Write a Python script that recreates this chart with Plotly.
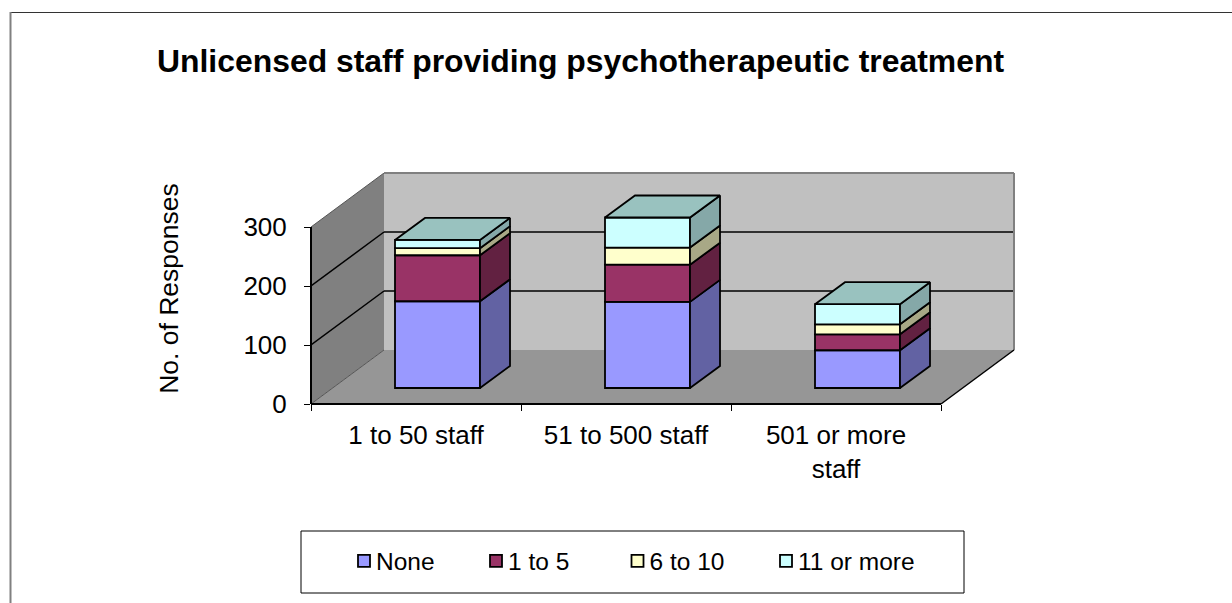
import plotly.graph_objects as go

categories = ["1 to 50 staff", "51 to 500 staff", "501 or more<br>staff"]
series_names = ["None", "1 to 5", "6 to 10", "11 or more"]
none_values = [147, 146, 64]
one_to_five = [78, 63, 27]
six_to_ten = [12, 29, 17]
eleven_plus = [14, 51, 34]
y_ticks = [0, 100, 200, 300]

front_colors = ["#9999FF", "#993366", "#FFFFCC", "#CCFFFF"]
side_colors = ["#6262A3", "#622141", "#A8A886", "#85A8A8"]
top_color = "#99C2BF"

W, H = 1232, 603
L, R, T, B = 311, 1014, 173, 404
PX_X = 210.0        # pixels per category
PX_Y = 0.59         # pixels per response
WALL_DX = 73 / PX_X
WALL_DY = 54 / PX_Y
X_MAX = (R - L) / PX_X
Y_MAX = (B - T) / PX_Y
BAR_W = 85 / PX_X
BAR_DX = 30 / PX_X
BAR_DY = 22 / PX_Y
BAR_X0 = 0.6024
BAR_Y0 = 16 / PX_Y

FONT = "Liberation Sans, Arial, sans-serif"


def px(x):
    return (x - L) / (R - L)


def py(y):
    return (B - y) / (B - T)


fig = go.Figure()
all_series = [none_values, one_to_five, six_to_ten, eleven_plus]
centers = [BAR_X0 + i for i in range(len(categories))]
bases = [BAR_Y0] * len(categories)
outline = dict(color="black", width=1.8)
legend_ids = ["legend", "legend2", "legend3", "legend4"]
side_traces = []
for s, (name, vals) in enumerate(zip(series_names, all_series)):
    fig.add_trace(go.Bar(x=centers, y=vals, base=bases, width=BAR_W, name=name,
                         legend=legend_ids[s],
                         marker=dict(color=front_colors[s], line=outline)))
    sx, sy = [], []
    for c, b, v in zip(centers, bases, vals):
        xr = c + BAR_W / 2
        sx += [xr, xr + BAR_DX, xr + BAR_DX, xr, xr, None]
        sy += [b, b + BAR_DY, b + v + BAR_DY, b + v, b, None]
    side_traces.append(go.Scatter(x=sx, y=sy, mode="lines", fill="toself", fillcolor=side_colors[s],
                                  line=outline, showlegend=False, hoverinfo="skip"))
    bases = [b + v for b, v in zip(bases, vals)]
for t in side_traces:
    fig.add_trace(t)

tx, ty = [], []
for c, b in zip(centers, bases):
    xl, xr = c - BAR_W / 2, c + BAR_W / 2
    tx += [xl, xr, xr + BAR_DX, xl + BAR_DX, xl, None]
    ty += [b, b, b + BAR_DY, b + BAR_DY, b, None]
fig.add_trace(go.Scatter(x=tx, y=ty, mode="lines", fill="toself", fillcolor=top_color,
                         line=outline, showlegend=False, hoverinfo="skip"))

shapes = [
    dict(type="path", layer="below", xref="x", yref="y", line=dict(width=0), fillcolor="#C0C0C0",
         path=f"M{WALL_DX},{WALL_DY} L{X_MAX},{WALL_DY} L{X_MAX},{Y_MAX} L{WALL_DX},{Y_MAX} Z"),
    dict(type="path", layer="below", xref="x", yref="y", line=dict(width=0), fillcolor="#808080",
         path=f"M0,0 L{WALL_DX},{WALL_DY} L{WALL_DX},{Y_MAX} L0,300 Z"),
    dict(type="path", layer="below", xref="x", yref="y", line=dict(width=0), fillcolor="#969696",
         path=f"M0,0 L3,0 L{3 + WALL_DX},{WALL_DY} L{WALL_DX},{WALL_DY} Z"),
]
for v in y_ticks:
    col, wd = ("black", 1.5) if v in (100, 200) else ("#555555", 1)
    shapes.append(dict(type="line", layer="below", xref="x", yref="y", x0=0, x1=WALL_DX,
                       y0=v, y1=v + WALL_DY, line=dict(color=col, width=wd)))
    if v in (100, 200):
        shapes.append(dict(type="line", layer="below", xref="x", yref="y", x0=WALL_DX, x1=X_MAX,
                           y0=v + WALL_DY, y1=v + WALL_DY, line=dict(color=col, width=wd)))
# wall edges, axis lines, outer chart border and legend box (unclipped, page-positioned)
shapes += [
    dict(type="line", xref="paper", yref="paper", x0=px(R), x1=px(R), y0=py(350), y1=py(T),
         line=dict(color="#808080", width=2)),
    dict(type="line", xref="paper", yref="paper", x0=px(384), x1=px(R), y0=py(T), y1=py(T),
         line=dict(color="#808080", width=2)),
    dict(type="line", xref="paper", yref="paper", x0=px(L), x1=px(L), y0=py(227), y1=py(B),
         line=dict(color="black", width=2)),
    dict(type="line", xref="paper", yref="paper", x0=px(L), x1=px(941), y0=py(B), y1=py(B),
         line=dict(color="black", width=2)),
    dict(type="line", xref="paper", yref="paper", x0=px(941), x1=px(R), y0=py(B), y1=py(350),
         line=dict(color="black", width=1.5)),
    dict(type="line", xref="paper", yref="paper", x0=px(10), x1=px(1232), y0=py(12.5), y1=py(12.5),
         line=dict(color="#333333", width=1)),
    dict(type="line", xref="paper", yref="paper", x0=px(10.5), x1=px(10.5), y0=py(12), y1=py(603),
         line=dict(color="#808080", width=2)),
    dict(type="rect", xref="paper", yref="paper", x0=px(301), x1=px(964), y0=py(531), y1=py(593),
         line=dict(color="black", width=1), fillcolor="white", layer="below"),
]

legend_x = [344, 476, 617.5, 766]
legends = {}
for lid, lx in zip(legend_ids, legend_x):
    legends[lid] = dict(x=px(lx), y=py(561), xanchor="left", yanchor="middle",
                        bgcolor="rgba(0,0,0,0)", borderwidth=0,
                        font=dict(family=FONT, size=24.5, color="black"))

fig.update_layout(
    width=W, height=H,
    margin=dict(l=L, r=W - R, t=T, b=H - B, autoexpand=False),
    paper_bgcolor="white", plot_bgcolor="white",
    barmode="overlay",
    title=dict(text="<b>Unlicensed staff providing psychotherapeutic treatment</b>",
               x=157 / W, xanchor="left", y=1 - 61 / H, yanchor="middle",
               font=dict(family=FONT, size=31.9, color="black")),
    xaxis=dict(range=[0, X_MAX], showgrid=False, zeroline=False, showline=False,
               tickmode="array", tickvals=[i + 0.5 for i in range(len(categories))],
               ticktext=categories, ticks="", ticklabelstandoff=13,
               minor=dict(tickmode="array", tickvals=list(range(len(categories) + 1)),
                          ticks="outside", ticklen=6, tickcolor="black", tickwidth=1, showgrid=False),
               tickfont=dict(family=FONT, size=26, color="black")),
    yaxis=dict(range=[0, Y_MAX], showgrid=False, zeroline=False, showline=False,
               tickmode="array", tickvals=y_ticks, ticks="outside", ticklen=6,
               tickcolor="black", tickwidth=1, ticklabelstandoff=12,
               tickfont=dict(family=FONT, size=26, color="black"),
               title=dict(text="No. of Responses", standoff=57,
                          font=dict(family=FONT, size=26.5, color="black"))),
    shapes=shapes,
    **legends,
)

post = """
document.body.style.margin='0';document.body.style.overflow='hidden';
var st=document.createElement('style');
st.textContent='.legendtext,.legend2text,.legend3text,.legend4text{transform:translateX(-8px);}';
document.head.appendChild(st);
"""
fig.write_html("out.html", config={"displayModeBar": False}, post_script=post)
